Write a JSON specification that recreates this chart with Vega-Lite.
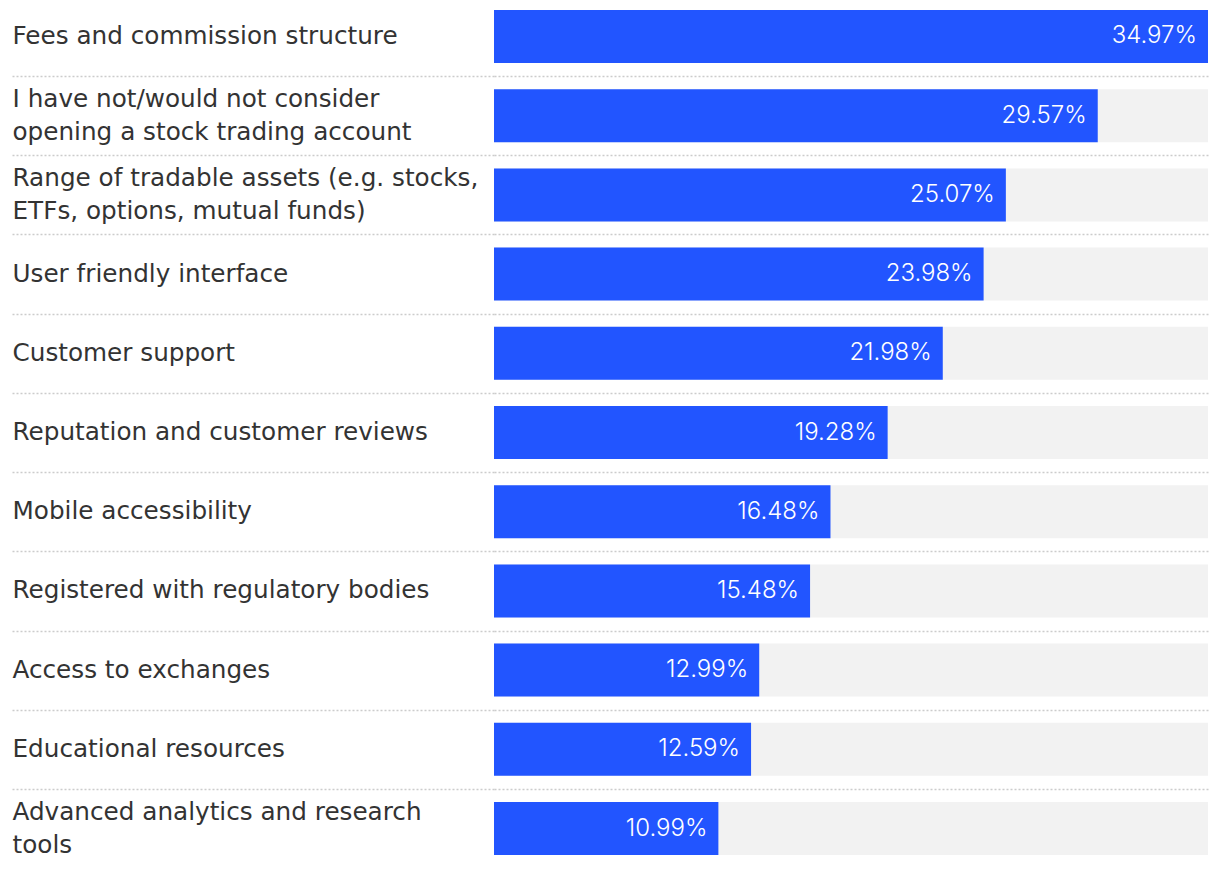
{
  "$schema": "https://vega.github.io/schema/vega-lite/v6.json",
  "width": 714,
  "height": 865,
  "autosize": {"type": "none"},
  "padding": {"left": 494, "right": 12, "top": 0, "bottom": 9},
  "background": "#ffffff",
  "config": {"view": {"stroke": null}, "font": "Inter"},
  "data": {
    "values": [
      {"label": "Fees and commission structure", "value": 0.3497},
      {"label": "I have not/would not consider\nopening a stock trading account", "value": 0.2957},
      {"label": "Range of tradable assets (e.g. stocks,\nETFs, options, mutual funds)", "value": 0.2507},
      {"label": "User friendly interface", "value": 0.2398},
      {"label": "Customer support", "value": 0.2198},
      {"label": "Reputation and customer reviews", "value": 0.1928},
      {"label": "Mobile accessibility", "value": 0.1648},
      {"label": "Registered with regulatory bodies", "value": 0.1548},
      {"label": "Access to exchanges", "value": 0.1299},
      {"label": "Educational resources", "value": 0.1259},
      {"label": "Advanced analytics and research\ntools", "value": 0.1099}
    ]
  },
  "transform": [{"joinaggregate": [{"op": "max", "field": "value", "as": "maxv"}]}],
  "encoding": {
    "y": {
      "field": "label",
      "type": "nominal",
      "sort": null,
      "title": null,
      "scale": {"paddingInner": 0.331, "paddingOuter": 0.126},
      "axis": {
        "domain": false,
        "ticks": true,
        "bandPosition": 0,
        "tickOffset": -13.1,
        "tickSize": 482,
        "tickColor": "#cccccc",
        "tickDash": [2, 2],
        "tickWidth": 1.5,
        "grid": true,
        "gridColor": "#cccccc",
        "gridDash": [2, 2],
        "gridWidth": 1.5,
        "labelPadding": 0,
        "labelAlign": "left",
        "labelBaseline": "middle",
        "labelFont": "DejaVu Sans",
        "labelFontSize": 24.7,
        "labelColor": "#333333",
        "labelLineHeight": 33,
        "labelLimit": 0,
        "labelOffset": {"condition": {"test": "indexof(datum.value, '\\n') >= 0", "value": -3.4}, "value": 13.1},
        "labelExpr": "split(datum.label, '\\n')"
      }
    }
  },
  "layer": [
    {
      "mark": {"type": "bar", "color": "#f2f2f2"},
      "encoding": {
        "x": {"field": "maxv", "type": "quantitative", "axis": null, "scale": {"nice": false, "zero": true}}
      }
    },
    {
      "mark": {"type": "bar", "color": "#2255ff"},
      "encoding": {
        "x": {"field": "value", "type": "quantitative"}
      }
    },
    {
      "mark": {"type": "text", "align": "right", "baseline": "middle", "dx": -11, "color": "#ffffff", "font": "Inter", "fontSize": 24, "fontWeight": 300},
      "encoding": {
        "x": {"field": "value", "type": "quantitative"},
        "text": {"field": "value", "type": "quantitative", "format": ".2%"}
      }
    }
  ]
}
